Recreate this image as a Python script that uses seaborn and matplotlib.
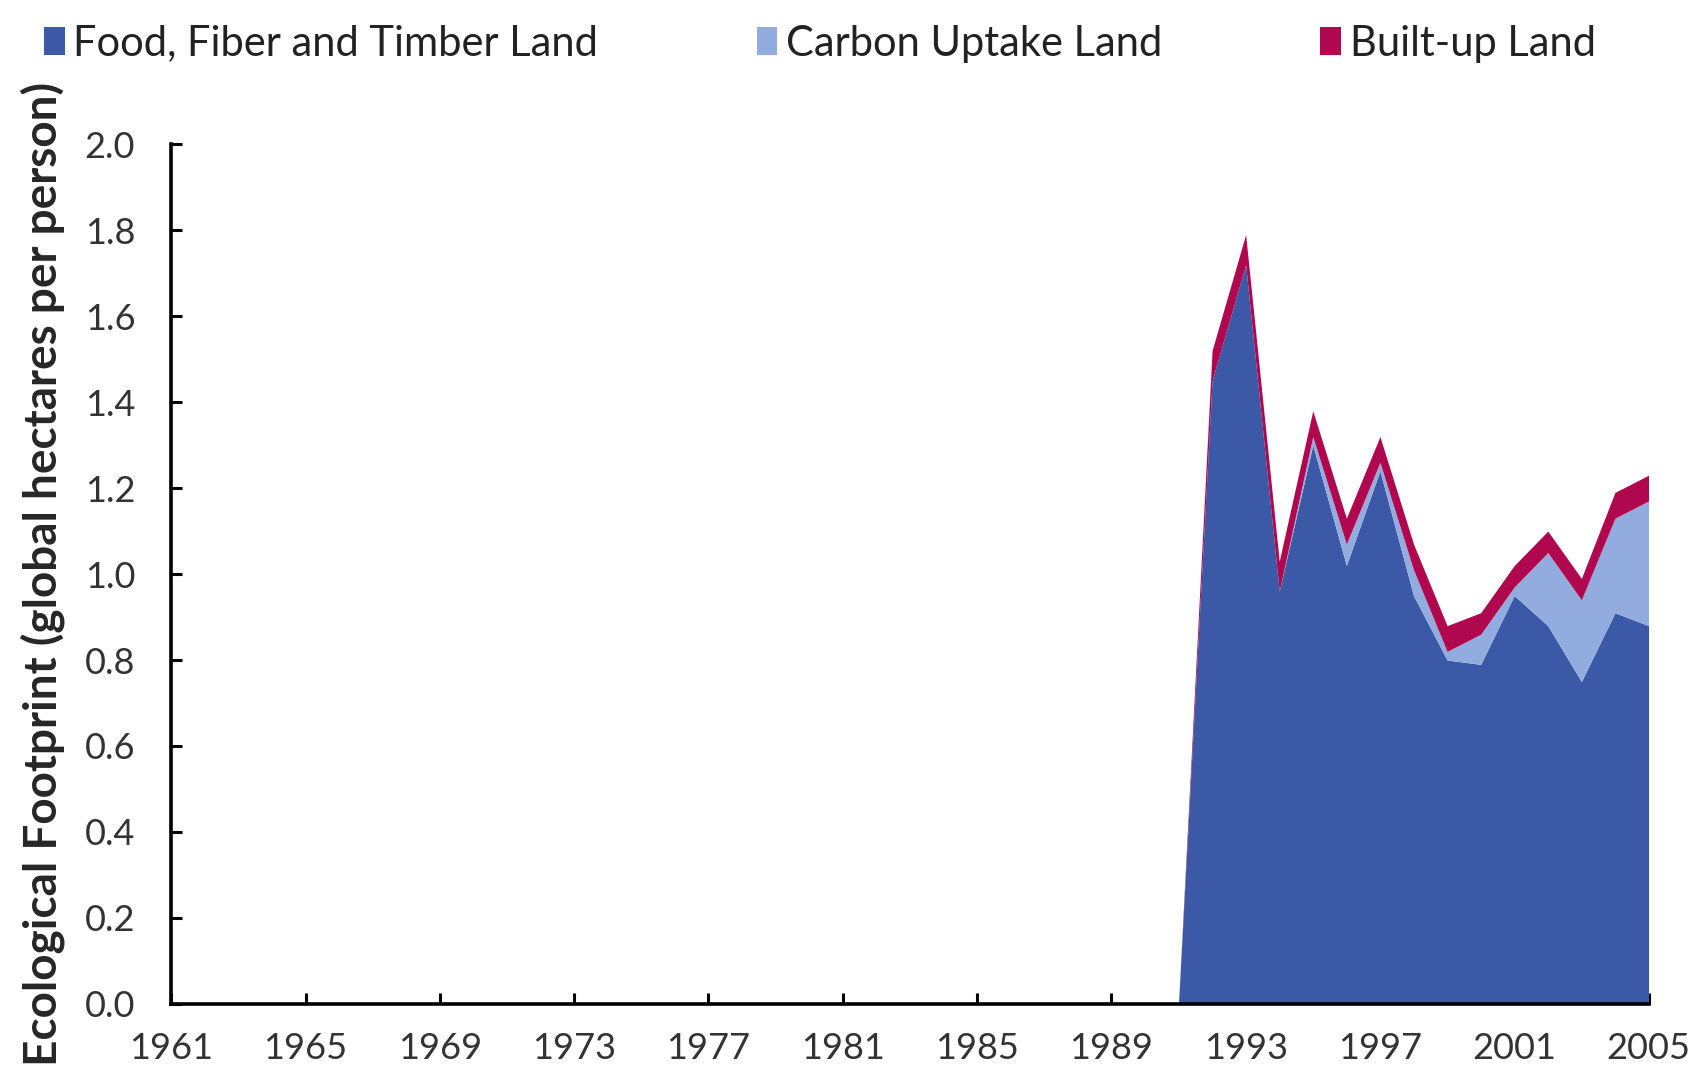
import matplotlib
matplotlib.use("Agg")
import matplotlib.pyplot as plt
from matplotlib.patches import Patch
import seaborn as sns
import numpy as np

sns.set_style("ticks")
plt.rcParams["font.family"] = ["Lato", "DejaVu Sans"]

# 年份与各类用地足迹（1991年前无数据，记为0）
years = list(range(1961, 2006))
pre_years = len(range(1961, 1991))
food = [0.0] * pre_years + [0.00, 1.45, 1.72, 0.96, 1.30, 1.02, 1.24, 0.95,
                            0.80, 0.79, 0.95, 0.88, 0.75, 0.91, 0.88]
carbon = [0.0] * pre_years + [0.00, 0.00, 0.00, 0.00, 0.02, 0.05, 0.02, 0.06,
                              0.02, 0.07, 0.02, 0.17, 0.19, 0.22, 0.29]
built = [0.0] * pre_years + [0.00, 0.07, 0.07, 0.07, 0.06, 0.06, 0.06, 0.06,
                             0.06, 0.05, 0.05, 0.05, 0.05, 0.06, 0.06]

labels = ["Food, Fiber and Timber Land", "Carbon Uptake Land", "Built-up Land"]
colors = ["#3b59a7", "#93acdf", "#b0084f"]
year_ticks = list(range(1961, 2006, 4))
y_ticks = np.arange(0, 2.01, 0.2)

fig = plt.figure(figsize=(16.96, 10.68), dpi=100)
ax = fig.add_axes([0.101, 0.060, 0.871, 0.805])

ax.stackplot(years, food, carbon, built, colors=colors, linewidth=0)

ax.set_xlim(1961, 2005)
ax.set_ylim(0, 2.0)
ax.set_xticks(year_ticks)
ax.set_yticks(y_ticks)
ax.set_yticklabels([f"{v:.1f}" for v in y_ticks])
ax.tick_params(axis="both", direction="in", length=8, width=2.2,
               labelsize=26, colors="black", labelcolor="#333333")
ax.tick_params(axis="x", pad=20)
ax.tick_params(axis="y", pad=26)
sns.despine(ax=ax)
for side in ["left", "bottom"]:
    ax.spines[side].set_linewidth(2.6)
    ax.spines[side].set_color("black")

ax.set_ylabel("Ecological Footprint (global hectares per person)",
              fontsize=33, fontweight="bold", labelpad=14)

handles = [Patch(facecolor=c, edgecolor="none") for c in colors]
fig.legend(handles, labels, loc="upper left", bbox_to_anchor=(0.004, 1.012),
           ncol=3, frameon=False, fontsize=30, handlelength=0.5,
           handleheight=0.65, handletextpad=0.2, columnspacing=3.8,
           labelcolor="#222222")

fig.savefig("out.png", dpi=100)
